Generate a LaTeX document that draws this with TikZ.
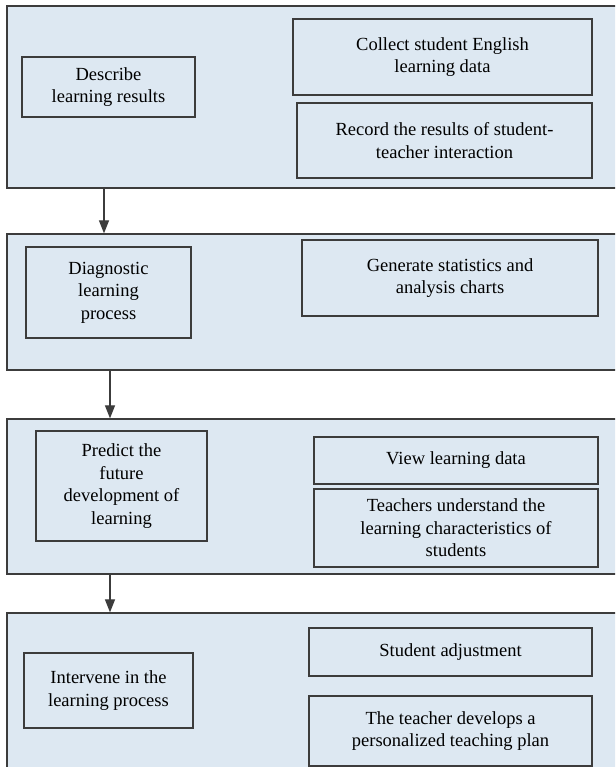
\documentclass[tikz,border=0pt]{standalone}
\usepackage{fontspec}
\setmainfont{Liberation Serif}
\usetikzlibrary{fit,arrows.meta}
\definecolor{panelfill}{RGB}{221,232,242}
\definecolor{edge}{RGB}{60,60,60}
\tikzset{
  panel/.style={draw=edge, fill=panelfill, line width=1.3pt, inner sep=0pt},
  box/.style={draw=edge, line width=1.2pt, inner sep=0pt, align=center,
    font=\fontsize{18.5}{22.5}\selectfont},
  arr/.style={draw=edge, line width=1.2pt, -{Triangle[length=13pt,width=10pt]}}
}
\begin{document}
\begin{tikzpicture}[x=1pt,y=-1pt]
\useasboundingbox (0,0) rectangle (615,767);
\clip (0,0) rectangle (615,767);
% panels
\node[panel, fit={(7,6) (630,188)}] (p1) {};
\node[panel, fit={(7,234) (630,370)}] (p2) {};
\node[panel, fit={(7,419) (630,574)}] (p3) {};
\node[panel, fit={(7,613) (630,790)}] (p4) {};
% panel 1
\node[box, minimum width=173pt, minimum height=60pt] (d1) at (108.5,87) {Describe\\learning results};
\node[box, minimum width=299pt, minimum height=76pt] (c1) at (442.5,57) {Collect student English\\learning data};
\node[box, minimum width=295pt, minimum height=75pt] (r1) at (444.5,140.5) {Record the results of student-\\teacher interaction};
% panel 2
\node[box, minimum width=165pt, minimum height=91pt] (d2) at (108.5,292.5) {Diagnostic\\learning\\process};
\node[box, minimum width=296pt, minimum height=76pt] (g2) at (450,278) {Generate statistics and\\analysis charts};
% panel 3
\node[box, minimum width=171pt, minimum height=110pt] (d3) at (121.5,486) {Predict the\\future\\development of\\learning};
\node[box, minimum width=284pt, minimum height=47pt] (v3) at (456,460.5) {View learning data};
\node[box, minimum width=284pt, minimum height=78pt] (t3) at (456,528) {Teachers understand the\\learning characteristics of\\students};
% panel 4
\node[box, minimum width=169pt, minimum height=75pt] (d4) at (108.5,690.5) {Intervene in the\\learning process};
\node[box, minimum width=283pt, minimum height=48pt] (s4) at (450.5,652) {Student adjustment};
\node[box, minimum width=283pt, minimum height=70pt] (t4) at (450.5,731) {The teacher develops a\\personalized teaching plan};
% arrows
\coordinate (a1) at (104,0);
\coordinate (a2) at (110,0);
\draw[arr] (p1.south -| a1) -- (p2.north -| a1);
\draw[arr] (p2.south -| a2) -- (p3.north -| a2);
\draw[arr] (p3.south -| a2) -- (p4.north -| a2);
\end{tikzpicture}
\end{document}
